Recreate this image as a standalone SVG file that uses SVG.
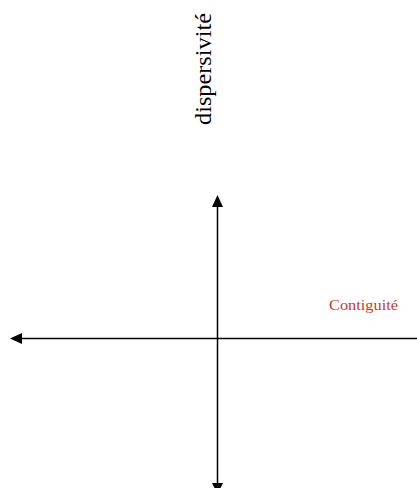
<svg xmlns="http://www.w3.org/2000/svg" width="417" height="488" viewBox="0 0 417 488">
<style>
.ax{stroke:#000;stroke-width:1.5;fill:none}
.ah{fill:#000}
.lbl{font-family:"Liberation Serif","Times New Roman",serif}
</style>
<rect width="417" height="488" fill="#fff"/>
<g id="connectors">
<line class="ax" x1="217.5" y1="202" x2="217.5" y2="488"/>
<polygon class="ah" points="217.5,195 212,207 223,207"/>
<polygon class="ah" points="212,483 223,483 217.5,494"/>
<line class="ax" x1="16" y1="338.5" x2="417" y2="338.5"/>
<polygon class="ah" points="10,338.5 22,333 22,344"/>
</g>
<g id="dispersivite">
<text class="lbl" transform="translate(211,125) rotate(-90)" font-size="23" textLength="112" lengthAdjust="spacingAndGlyphs" fill="#000">dispersivité</text>
</g>
<g id="contiguite">
<text class="lbl" x="329" y="310" font-size="15" textLength="69" lengthAdjust="spacingAndGlyphs" fill="#c83c1e">Contiguité</text>
</g>
</svg>
